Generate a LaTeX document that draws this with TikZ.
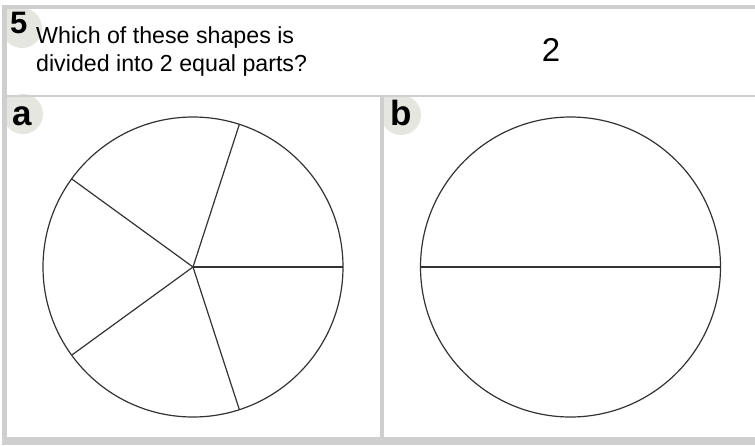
\documentclass[tikz,border=0pt]{standalone}
\usepackage{fontspec}
\setmainfont{Liberation Sans}
\definecolor{kader}{HTML}{CFCFCF}
\definecolor{labelgrijs}{HTML}{E6E6E0}
\definecolor{lijn}{HTML}{333333}
\tikzset{
  vorm/.style={draw=lijn, line width=1.2pt},
  deel/.style={draw=lijn, line width=1.2pt},
  letter/.style={anchor=base west, inner sep=0pt, font=\bfseries\fontsize{35}{35}\selectfont},
  vraag/.style={anchor=base west, inner sep=0pt, font=\fontsize{23.2}{24}\selectfont}
}
\begin{document}
\begin{tikzpicture}[x=1pt, y=-1pt]

  \useasboundingbox (0,0) rectangle (755,445);
  \fill[white] (0,0) rectangle (755,445);

  % Labels achtergrond
  \fill[labelgrijs] (22,28) circle (20);
  \fill[labelgrijs] (6,9) rectangle (22,28);
  \fill[labelgrijs] (23,114) circle (20);
  \fill[labelgrijs] (7,97) rectangle (23,114);
  \fill[labelgrijs] (401,115) circle (20);
  \fill[labelgrijs] (384,97) rectangle (401,115);
  \fill[white] (0,0) rectangle (755,5);

  % Kader
  \fill[kader] (2,5) rectangle (755,9);
  \fill[kader] (2,5) rectangle (7,445);
  \fill[kader] (2,437) rectangle (755,445);
  \fill[kader] (7,94.5) rectangle (755,96.5);
  \fill[kader] (380,96.5) rectangle (384,437);

  % Vraag
  \node[letter, font=\bfseries\fontsize{31}{31}\selectfont] (nr) at (10,33) {5};
  \node[vraag] (q1) at (36,43) {Which of these shapes is};
  \node[vraag] (q2) at (36,71) {divided into 2 equal parts?};
  \node[anchor=base, inner sep=0pt, font=\fontsize{33}{33}\selectfont] (antw) at (551,61) {2};

  % Cirkel a
  \coordinate (A) at (193,267);
  \draw[vorm] (A) circle (150);
  \foreach \h in {0,72,144,216,288}
    \draw[deel] (A) -- ++(-\h:150);
  \node[letter] (la) at (12,125) {a};

  % Cirkel b
  \coordinate (B) at (570.5,267);
  \draw[vorm] (B) circle (150);
  \draw[deel] (B) ++(-150,0) -- ++(300,0);
  \node[letter] (lb) at (390,125) {b};

\end{tikzpicture}
\end{document}
